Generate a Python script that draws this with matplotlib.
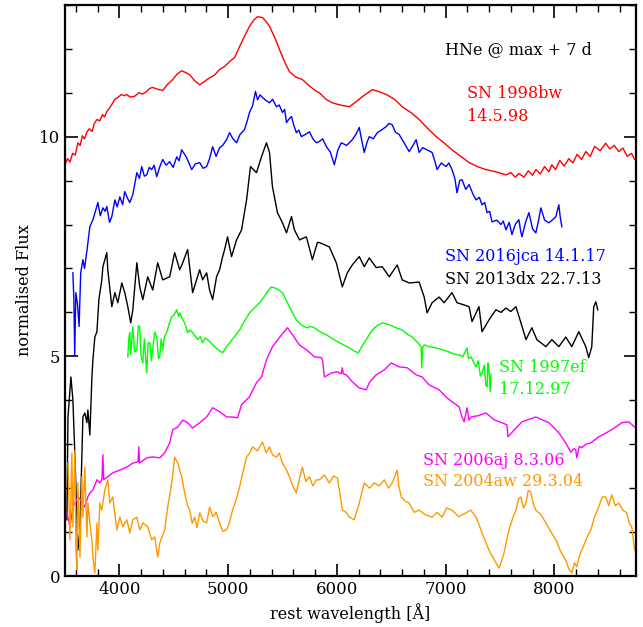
import numpy as np
import matplotlib
matplotlib.use("Agg")
import matplotlib.pyplot as plt
from matplotlib.ticker import MultipleLocator

plt.rcParams['font.family'] = ['DejaVu Serif']

# spectra: (rest wavelength [A], normalised flux)
sn1998bw = [(3500, 9.36), (3525, 9.50), (3546, 9.42), (3570, 9.62), (3595, 9.58), (3619, 9.86), (3640, 9.80),
            (3660, 10.02), (3680, 9.95), (3702, 10.11), (3725, 10.18), (3750, 10.12), (3770, 10.30), (3794, 10.39),
            (3820, 10.36), (3845, 10.50), (3865, 10.45), (3885, 10.57), (3910, 10.65), (3935, 10.75), (3959, 10.85),
            (3990, 10.90), (4020, 10.96), (4045, 10.93), (4069, 10.96), (4100, 10.90), (4142, 10.92), (4180, 11.00),
            (4215, 10.97), (4252, 11.03), (4280, 11.10), (4307, 11.12), (4350, 11.08), (4399, 11.05), (4440, 11.18),
            (4491, 11.30), (4530, 11.42), (4573, 11.50), (4610, 11.46), (4647, 11.41), (4690, 11.28), (4739, 11.18),
            (4780, 11.25), (4830, 11.34), (4875, 11.40), (4922, 11.53), (4970, 11.60), (5014, 11.71), (5060, 11.80),
            (5106, 12.05), (5150, 12.28), (5197, 12.51), (5235, 12.65), (5271, 12.73), (5317, 12.71), (5350, 12.62),
            (5381, 12.51), (5430, 12.25), (5473, 11.98), (5520, 11.70), (5564, 11.48), (5620, 11.36), (5683, 11.30),
            (5750, 11.15), (5812, 11.03), (5839, 11.00), (5900, 10.85), (5959, 10.77), (6030, 10.72), (6115, 10.68),
            (6180, 10.80), (6234, 10.91), (6326, 11.07), (6390, 11.02), (6454, 10.96), (6530, 10.85), (6601, 10.68),
            (6680, 10.55), (6757, 10.39), (6830, 10.20), (6913, 10.00), (6990, 9.85), (7059, 9.70), (7140, 9.55),
            (7216, 9.41), (7290, 9.32), (7371, 9.25), (7460, 9.20), (7555, 9.13), (7600, 9.18), (7640, 9.08),
            (7674, 9.16), (7720, 9.08), (7760, 9.22), (7800, 9.12), (7830, 9.25), (7870, 9.15), (7910, 9.32),
            (7950, 9.20), (7977, 9.36), (8010, 9.25), (8050, 9.46), (8090, 9.33), (8133, 9.50), (8170, 9.40),
            (8210, 9.60), (8250, 9.48), (8289, 9.66), (8330, 9.55), (8370, 9.78), (8420, 9.68), (8472, 9.85),
            (8510, 9.72), (8550, 9.80), (8592, 9.66), (8630, 9.74), (8670, 9.55), (8710, 9.62), (8738, 9.48)]

sn2016jca = [(3573, 6.90), (3582, 6.30), (3590, 5.03), (3600, 6.45), (3615, 6.20), (3630, 5.68), (3645, 6.90),
             (3665, 7.20), (3680, 7.00), (3702, 7.40), (3729, 7.95), (3757, 8.11), (3780, 8.30), (3803, 8.50),
             (3825, 8.20), (3849, 8.38), (3870, 8.30), (3885, 8.41), (3910, 8.05), (3931, 8.18), (3959, 8.56),
             (3980, 8.40), (4005, 8.63), (4030, 8.45), (4050, 8.75), (4075, 8.60), (4096, 8.50), (4124, 8.68),
             (4161, 9.18), (4185, 9.05), (4206, 9.32), (4230, 9.10), (4252, 9.13), (4275, 9.30), (4298, 9.25),
             (4320, 9.35), (4344, 9.09), (4370, 9.30), (4399, 9.48), (4430, 9.35), (4463, 9.43), (4495, 9.30),
             (4528, 9.54), (4550, 9.45), (4573, 9.70), (4600, 9.60), (4619, 9.52), (4640, 9.40), (4665, 9.25),
             (4700, 9.38), (4739, 9.41), (4770, 9.28), (4803, 9.32), (4830, 9.50), (4858, 9.77), (4890, 9.55),
             (4922, 9.75), (4950, 9.80), (4986, 9.93), (5014, 10.09), (5045, 9.95), (5078, 9.86), (5110, 10.05),
             (5151, 10.16), (5175, 10.35), (5197, 10.55), (5225, 10.70), (5252, 11.03), (5271, 10.84), (5295, 10.95),
             (5317, 10.89), (5350, 10.82), (5381, 10.77), (5410, 10.85), (5445, 10.68), (5470, 10.72), (5500, 10.55),
             (5520, 10.62), (5537, 10.32), (5560, 10.40), (5583, 10.46), (5605, 10.25), (5628, 10.09), (5650, 10.15),
             (5674, 10.00), (5710, 10.05), (5748, 10.11), (5780, 9.95), (5812, 9.86), (5839, 9.89), (5870, 9.95),
             (5904, 9.77), (5940, 9.65), (5977, 9.36), (6010, 9.70), (6041, 9.86), (6090, 9.80), (6142, 9.93),
             (6175, 10.05), (6206, 10.21), (6230, 9.90), (6252, 9.64), (6275, 9.85), (6298, 10.00), (6335, 9.95),
             (6372, 10.09), (6410, 10.15), (6454, 10.23), (6480, 10.30), (6509, 10.27), (6540, 10.10), (6573, 10.05),
             (6620, 9.85), (6665, 9.66), (6700, 9.80), (6729, 9.93), (6757, 9.64), (6790, 9.75), (6830, 9.70),
             (6876, 9.64), (6900, 9.45), (6922, 9.25), (6960, 9.40), (7004, 9.32), (7030, 9.40), (7059, 9.25),
             (7085, 9.05), (7105, 8.72), (7130, 9.00), (7151, 9.02), (7185, 8.80), (7216, 8.91), (7250, 8.70),
             (7280, 8.56), (7310, 8.62), (7335, 8.45), (7360, 8.50), (7381, 8.27), (7405, 8.30), (7427, 8.06),
             (7470, 8.10), (7509, 8.00), (7530, 8.08), (7555, 7.88), (7585, 8.05), (7610, 7.77), (7640, 8.00),
             (7674, 8.11), (7690, 7.85), (7702, 7.72), (7735, 8.05), (7766, 8.27), (7800, 7.90), (7830, 7.81),
             (7855, 8.10), (7876, 8.38), (7910, 8.10), (7949, 8.04), (7980, 8.10), (8014, 8.18), (8041, 8.45),
             (8055, 8.15), (8069, 7.95)]

sn2013dx = [(3518, 1.28), (3528, 3.62), (3555, 4.53), (3573, 4.01), (3592, 2.71), (3619, 0.59), (3638, 1.05),
            (3665, 3.62), (3683, 3.71), (3702, 3.49), (3711, 3.78), (3729, 3.21), (3748, 4.53), (3757, 4.92),
            (3775, 5.44), (3794, 5.56), (3812, 6.29), (3839, 6.74), (3849, 7.04), (3885, 7.36), (3894, 6.97),
            (3931, 6.13), (3959, 6.45), (3986, 6.22), (4023, 6.67), (4050, 6.45), (4078, 6.13), (4105, 5.76),
            (4124, 6.06), (4161, 7.13), (4188, 6.58), (4216, 6.29), (4261, 6.81), (4307, 6.51), (4353, 7.13),
            (4399, 6.74), (4463, 6.81), (4509, 7.36), (4555, 6.97), (4583, 7.13), (4628, 7.43), (4674, 6.45),
            (4739, 6.97), (4766, 6.74), (4803, 6.90), (4830, 6.51), (4858, 6.29), (4894, 6.81), (4922, 6.97),
            (4950, 7.27), (4968, 7.43), (4995, 7.72), (5032, 7.27), (5078, 7.65), (5124, 7.88), (5170, 8.56),
            (5206, 9.32), (5261, 9.18), (5307, 9.54), (5353, 9.86), (5381, 9.64), (5408, 8.86), (5454, 8.27),
            (5500, 8.04), (5537, 7.81), (5583, 8.18), (5610, 7.88), (5656, 7.65), (5720, 7.72), (5775, 7.20),
            (5821, 7.59), (5839, 7.59), (5931, 7.49), (5995, 7.13), (6050, 6.58), (6096, 6.90), (6142, 7.08),
            (6206, 7.27), (6252, 7.04), (6298, 7.24), (6362, 7.02), (6417, 7.04), (6482, 6.81), (6555, 7.08),
            (6601, 6.74), (6665, 6.67), (6757, 6.69), (6803, 6.35), (6830, 5.99), (6876, 6.22), (6940, 6.35),
            (6986, 6.22), (7059, 6.45), (7105, 6.22), (7170, 6.17), (7216, 6.13), (7243, 5.79), (7307, 6.13),
            (7335, 5.56), (7399, 5.83), (7463, 6.06), (7510, 6.00), (7555, 6.10), (7600, 6.02), (7647, 6.13),
            (7693, 5.76), (7739, 5.38), (7793, 5.65), (7839, 5.38), (7922, 5.22), (7977, 5.38), (8041, 5.22),
            (8105, 5.44), (8160, 5.22), (8225, 5.56), (8289, 5.22), (8316, 4.97), (8344, 5.22), (8362, 6.13),
            (8381, 6.24), (8399, 6.06)]

sn1997ef = [(4078, 4.99), (4087, 5.40), (4096, 5.54), (4105, 5.05), (4124, 5.67), (4140, 5.10), (4161, 5.15),
            (4175, 5.70), (4188, 5.67), (4200, 5.00), (4216, 4.85), (4230, 5.40), (4252, 4.62), (4265, 5.30),
            (4280, 5.31), (4295, 4.90), (4307, 5.15), (4325, 5.55), (4344, 5.44), (4360, 4.95), (4372, 4.99),
            (4385, 5.40), (4399, 5.15), (4415, 5.45), (4436, 5.54), (4460, 5.75), (4482, 5.90), (4505, 5.95),
            (4528, 6.06), (4545, 5.90), (4555, 5.99), (4580, 5.85), (4601, 5.76), (4628, 5.54), (4650, 5.60),
            (4674, 5.54), (4700, 5.45), (4720, 5.38), (4745, 5.45), (4766, 5.31), (4790, 5.42), (4812, 5.38),
            (4845, 5.30), (4876, 5.22), (4910, 5.15), (4950, 5.08), (4980, 5.20), (5014, 5.31), (5060, 5.45),
            (5106, 5.60), (5150, 5.80), (5197, 5.99), (5240, 6.10), (5289, 6.22), (5330, 6.35), (5362, 6.47),
            (5395, 6.58), (5427, 6.56), (5460, 6.52), (5500, 6.45), (5530, 6.30), (5564, 6.13), (5600, 5.95),
            (5628, 5.83), (5670, 5.72), (5720, 5.65), (5760, 5.68), (5794, 5.65), (5850, 5.55), (5904, 5.49),
            (5960, 5.40), (6023, 5.31), (6070, 5.25), (6115, 5.19), (6160, 5.12), (6197, 5.08), (6235, 5.25),
            (6271, 5.38), (6300, 5.50), (6326, 5.60), (6370, 5.70), (6417, 5.76), (6460, 5.74), (6509, 5.69),
            (6555, 5.64), (6601, 5.60), (6650, 5.50), (6693, 5.44), (6740, 5.32), (6775, 5.22), (6780, 4.74),
            (6790, 5.20), (6803, 5.26), (6850, 5.22), (6913, 5.19), (6970, 5.15), (7032, 5.10), (7080, 5.05),
            (7124, 5.03), (7160, 5.00), (7197, 5.19), (7210, 4.95), (7234, 4.99), (7260, 4.85), (7280, 4.76),
            (7300, 4.90), (7320, 4.55), (7335, 4.62), (7355, 4.80), (7370, 4.35), (7381, 4.31), (7390, 4.85),
            (7399, 4.69), (7410, 4.20), (7417, 4.60)]

sn2006aj = [(3518, 1.44), (3546, 1.12), (3573, 1.57), (3600, 1.70), (3619, 1.80), (3650, 1.72), (3683, 1.57),
            (3710, 1.80), (3729, 1.89), (3757, 1.96), (3794, 2.19), (3821, 2.12), (3840, 2.20), (3849, 2.76),
            (3856, 2.19), (3894, 2.26), (3940, 2.35), (4005, 2.41), (4069, 2.48), (4124, 2.57), (4172, 2.60),
            (4179, 2.94), (4186, 2.57), (4252, 2.69), (4307, 2.71), (4372, 2.69), (4417, 2.80), (4463, 3.03),
            (4491, 3.33), (4537, 3.39), (4583, 3.55), (4628, 3.49), (4674, 3.37), (4739, 3.49), (4803, 3.62),
            (4858, 3.83), (4922, 3.74), (4986, 3.62), (5041, 3.62), (5087, 3.60), (5124, 3.90), (5197, 4.08),
            (5261, 4.40), (5307, 4.53), (5353, 4.92), (5408, 5.22), (5491, 5.49), (5546, 5.65), (5592, 5.49),
            (5656, 5.26), (5720, 5.15), (5794, 4.99), (5858, 4.97), (5870, 4.90), (5885, 4.53), (5949, 4.62),
            (6005, 4.65), (6040, 4.60), (6050, 4.74), (6060, 4.60), (6087, 4.58), (6142, 4.42), (6206, 4.28),
            (6271, 4.24), (6298, 4.40), (6362, 4.58), (6436, 4.69), (6500, 4.85), (6573, 4.76), (6647, 4.74),
            (6729, 4.58), (6784, 4.53), (6849, 4.35), (6940, 4.24), (7014, 4.05), (7124, 3.85), (7151, 3.62),
            (7170, 3.51), (7197, 3.83), (7215, 3.55), (7234, 3.62), (7300, 3.65), (7371, 3.71), (7450, 3.55),
            (7518, 3.49), (7564, 3.44), (7573, 3.17), (7702, 3.51), (7830, 3.62), (7949, 3.49), (8041, 3.26),
            (8105, 3.03), (8151, 2.82), (8180, 2.90), (8197, 2.87), (8206, 2.69), (8230, 2.95), (8252, 2.92),
            (8290, 3.00), (8335, 3.03), (8408, 3.17), (8470, 3.25), (8527, 3.33), (8570, 3.40), (8619, 3.49),
            (8683, 3.51), (8748, 3.37)]

sn2004aw = [(3528, 2.57), (3546, 0.82), (3564, 2.80), (3573, 1.12), (3592, 2.87), (3601, 0.59), (3610, 0.14),
            (3619, 2.12), (3638, 0.43), (3656, 2.26), (3665, 1.34), (3683, 2.48), (3702, 0.89), (3711, 1.66),
            (3729, 1.21), (3748, 0.82), (3757, 0.43), (3775, 0.07), (3794, 1.21), (3803, 0.59), (3821, 1.66),
            (3839, 1.50), (3867, 1.96), (3894, 2.19), (3913, 1.66), (3940, 1.80), (3977, 1.05), (4005, 1.34),
            (4032, 1.12), (4069, 1.28), (4096, 0.98), (4124, 1.28), (4161, 1.34), (4188, 1.05), (4216, 1.21),
            (4261, 1.12), (4298, 0.82), (4326, 0.89), (4353, 0.43), (4372, 0.75), (4417, 1.05), (4445, 1.57),
            (4482, 2.12), (4509, 2.71), (4537, 2.57), (4573, 2.26), (4601, 1.89), (4625, 1.62), (4647, 1.50),
            (4670, 1.20), (4693, 1.34), (4715, 1.10), (4739, 1.44), (4770, 1.25), (4803, 1.21), (4830, 1.57),
            (4860, 1.35), (4890, 1.45), (4922, 1.21), (4950, 1.02), (4986, 1.05), (5010, 1.20), (5041, 1.50),
            (5070, 1.70), (5106, 2.03), (5140, 2.40), (5170, 2.71), (5200, 2.80), (5225, 2.94), (5270, 2.85),
            (5317, 3.05), (5350, 2.80), (5381, 2.94), (5410, 2.75), (5445, 2.71), (5470, 2.80), (5500, 2.57),
            (5530, 2.45), (5564, 2.26), (5595, 2.05), (5628, 1.89), (5655, 2.20), (5683, 2.48), (5715, 2.15),
            (5748, 2.26), (5780, 2.05), (5812, 2.19), (5839, 2.19), (5885, 2.30), (5931, 2.12), (5970, 2.28),
            (6005, 2.23), (6030, 1.85), (6050, 1.50), (6085, 1.45), (6115, 1.34), (6160, 1.28), (6206, 1.66),
            (6230, 1.90), (6252, 2.12), (6300, 2.00), (6344, 2.12), (6390, 2.05), (6436, 2.19), (6475, 2.00),
            (6509, 2.12), (6555, 2.41), (6570, 2.05), (6592, 1.80), (6630, 1.70), (6665, 1.66), (6710, 1.45),
            (6757, 1.50), (6810, 1.40), (6876, 1.34), (6920, 1.45), (6968, 1.34), (7010, 1.55), (7059, 1.50),
            (7120, 1.35), (7188, 1.44), (7230, 1.50), (7280, 1.34), (7310, 1.15), (7335, 0.98), (7365, 0.80),
            (7399, 0.59), (7430, 0.45), (7463, 0.30), (7491, 0.18), (7515, 0.35), (7537, 0.52), (7560, 0.80),
            (7582, 1.05), (7615, 1.30), (7647, 1.50), (7670, 1.75), (7693, 1.80), (7715, 1.55), (7739, 1.66),
            (7760, 1.95), (7784, 1.91), (7805, 1.65), (7830, 1.50), (7875, 1.40), (7922, 1.21), (7970, 1.00),
            (8014, 0.82), (8060, 0.55), (8105, 0.36), (8135, 0.15), (8160, 0.07), (8185, 0.30), (8206, 0.21),
            (8230, 0.45), (8252, 0.59), (8295, 0.85), (8335, 1.05), (8370, 1.35), (8408, 1.57), (8440, 1.80),
            (8472, 1.80), (8500, 1.60), (8527, 1.85), (8560, 1.60), (8592, 1.66), (8630, 1.50), (8665, 1.44),
            (8690, 1.20), (8711, 1.12), (8725, 0.85), (8738, 0.59)]

spectra = [
    (sn1998bw, '#ff0000'),
    (sn2016jca, '#0000ff'),
    (sn2013dx, '#000000'),
    (sn1997ef, '#00ff00'),
    (sn2006aj, '#ff00ff'),
    (sn2004aw, '#ff9900'),
]

labels = [
    (6995, 11.98, 'HNe @ max + 7 d', '#000000'),
    (7197, 10.98, 'SN 1998bw', '#ff0000'),
    (7197, 10.46, '14.5.98', '#ff0000'),
    (6995, 7.27, 'SN 2016jca 14.1.17', '#0000ff'),
    (6995, 6.74, 'SN 2013dx 22.7.13', '#000000'),
    (7491, 4.74, 'SN 1997ef', '#00ff00'),
    (7491, 4.24, '17.12.97', '#00ff00'),
    (6793, 2.64, 'SN 2006aj 8.3.06', '#ff00ff'),
    (6793, 2.16, 'SN 2004aw 29.3.04', '#ff9900'),
]

fig = plt.figure(figsize=(6.43, 6.27), dpi=100)
ax = fig.add_axes([0.101, 0.0813, 0.888, 0.911])

for spec, col in spectra:
    arr = np.array(spec)
    ax.plot(arr[:, 0], arr[:, 1], color=col, lw=1.0)

for x, y, txt, col in labels:
    ax.text(x, y, txt, color=col, fontsize=11.5, va='center', ha='left')

ax.set_xlim(3500, 8750)
ax.set_ylim(0, 13)
ax.xaxis.set_major_locator(MultipleLocator(1000))
ax.xaxis.set_minor_locator(MultipleLocator(200))
ax.yaxis.set_major_locator(MultipleLocator(5))
ax.yaxis.set_minor_locator(MultipleLocator(1))
ax.tick_params(which='both', direction='in', top=True, right=True, labelsize=12)
ax.tick_params(which='major', length=9, width=1.2)
ax.tick_params(which='minor', length=5, width=1.0)
for s in ax.spines.values():
    s.set_linewidth(1.6)

ax.set_xlabel('rest wavelength [Å]', fontsize=11.5)
ax.set_ylabel('normalised Flux', fontsize=11.5)

fig.savefig('out.png', dpi=100)
